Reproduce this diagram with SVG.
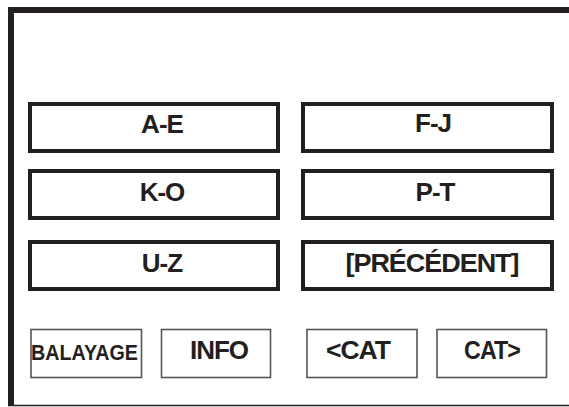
<svg xmlns="http://www.w3.org/2000/svg" width="569" height="407" viewBox="0 0 569 407">
<style>
.frame{fill:none;stroke:#231f20}
.key rect{fill:#fff;stroke:#231f20;stroke-width:4}
.btn rect{fill:#fff;stroke:#555;stroke-width:1.6}
text{font-family:"Liberation Sans",Arial,sans-serif;font-weight:bold;fill:#231f20;text-anchor:middle}
.big{font-size:26px;letter-spacing:-1px}
.small{font-size:22px}
</style>
<rect width="569" height="407" fill="#fff"/>
<g id="frame">
<line class="frame" x1="8" y1="10" x2="569" y2="10" stroke-width="6"/>
<line class="frame" x1="11" y1="7" x2="11" y2="406" stroke-width="6"/>
<line class="frame" x1="8" y1="405.5" x2="569" y2="405.5" stroke-width="1.5"/>
</g>
<g id="connectors"></g>
<g id="key-ae" class="key"><rect x="30" y="104" width="248" height="47"/><text class="big" x="162" y="133">A-E</text></g>
<g id="key-fj" class="key"><rect x="303" y="104" width="249" height="47"/><text class="big" x="433" y="132">F-J</text></g>
<g id="key-ko" class="key"><rect x="30" y="171" width="248" height="47"/><text class="big" x="162" y="201">K-O</text></g>
<g id="key-pt" class="key"><rect x="303" y="171" width="249" height="47"/><text class="big" x="435" y="201">P-T</text></g>
<g id="key-uz" class="key"><rect x="30" y="242" width="248" height="47"/><text class="big" x="162" y="272">U-Z</text></g>
<g id="key-prec" class="key"><rect x="303" y="242" width="249" height="47"/><text class="big" x="432" y="272" textLength="173" lengthAdjust="spacingAndGlyphs">[PRÉCÉDENT]</text></g>
<g id="btn-balayage" class="btn"><rect x="31" y="329.5" width="110.5" height="48"/><text class="small" x="84.5" y="360" textLength="107" lengthAdjust="spacingAndGlyphs">BALAYAGE</text></g>
<g id="btn-info" class="btn"><rect x="161.5" y="329.5" width="109" height="48"/><text class="big" x="219" y="359">INFO</text></g>
<g id="btn-prevcat" class="btn"><rect x="307" y="329.5" width="110" height="48"/><text class="big" x="358" y="359" textLength="64" lengthAdjust="spacingAndGlyphs">&lt;CAT</text></g>
<g id="btn-nextcat" class="btn"><rect x="437" y="329.5" width="109.5" height="48"/><text class="big" x="492" y="359" textLength="56" lengthAdjust="spacingAndGlyphs">CAT&gt;</text></g>
</svg>
